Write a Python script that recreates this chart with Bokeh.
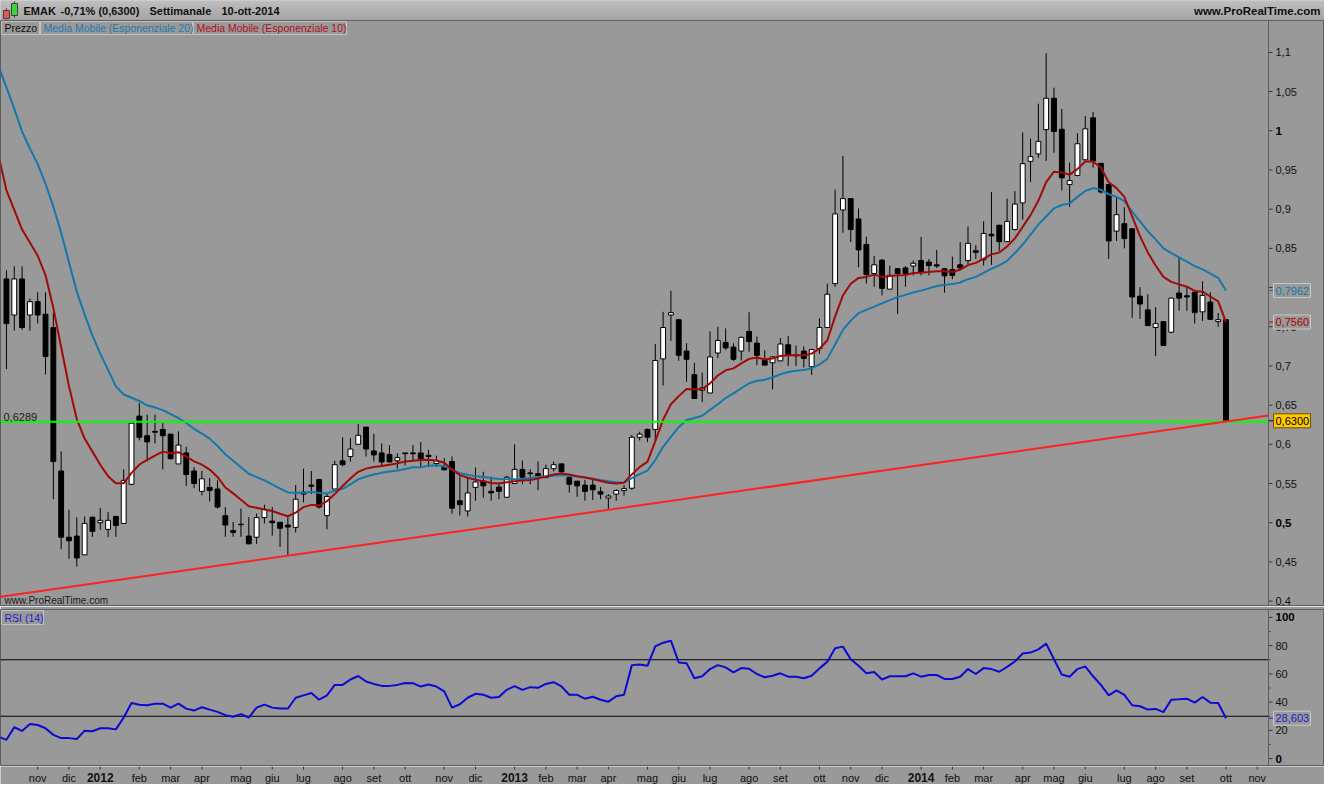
import numpy as np
from bokeh.plotting import figure
from bokeh.layouts import column
from bokeh.models import Range1d, Span, ColumnDataSource
from bokeh.core.properties import value
from bokeh.embed import file_html
from bokeh.resources import INLINE

# ---------------- data (weekly candles, 10 Oct 2011 -> 10 Oct 2014) ----------------
open_ = [0.811, 0.765, 0.811, 0.765, 0.782, 0.766, 0.749, 0.566, 0.4815, 0.483,
         0.459, 0.507, 0.500, 0.4915, 0.508, 0.499, 0.549, 0.636, 0.611, 0.6165,
         0.619, 0.613, 0.575, 0.589, 0.566, 0.540, 0.545, 0.543, 0.509, 0.490,
         0.498, 0.483, 0.4815, 0.5065, 0.502, 0.5005, 0.497, 0.494, 0.539, 0.548,
         0.555, 0.509, 0.543, 0.579, 0.5845, 0.600, 0.622, 0.5915, 0.589, 0.587,
         0.579, 0.589, 0.589, 0.589, 0.586, 0.5755, 0.5705, 0.578, 0.528, 0.515,
         0.545, 0.553, 0.540, 0.5455, 0.5325, 0.550, 0.568, 0.5635, 0.5625, 0.5575,
         0.569, 0.575, 0.5575, 0.553, 0.548, 0.548, 0.5395, 0.5315, 0.5365, 0.541,
         0.544, 0.609, 0.619, 0.619, 0.709, 0.765, 0.759, 0.719, 0.689, 0.669,
         0.6655, 0.7165, 0.730, 0.724, 0.719, 0.744, 0.729, 0.707, 0.704, 0.7065,
         0.727, 0.714, 0.719, 0.699, 0.722, 0.749, 0.805, 0.899, 0.9135, 0.8875,
         0.855, 0.818, 0.835, 0.798, 0.824, 0.825, 0.8275, 0.8345, 0.8325, 0.829,
         0.824, 0.823, 0.829, 0.8345, 0.847, 0.8355, 0.868, 0.8795, 0.8585, 0.874,
         0.908, 0.961, 0.9705, 1.0015, 1.0415, 1.002, 0.9315, 0.943, 0.963, 1.0165,
         0.9585, 0.9315, 0.872, 0.8815, 0.875, 0.789, 0.7715, 0.749, 0.7565, 0.743,
         0.793, 0.7895, 0.794, 0.769, 0.7815, 0.7565, 0.759]
high = [0.822, 0.827, 0.827, 0.786, 0.794, 0.794, 0.768, 0.591, 0.5165, 0.507,
        0.508, 0.508, 0.519, 0.5136, 0.508, 0.568, 0.628, 0.653, 0.638, 0.638,
        0.627, 0.613, 0.6165, 0.597, 0.571, 0.566, 0.557, 0.554, 0.520, 0.501,
        0.518, 0.507, 0.5115, 0.523, 0.520, 0.501, 0.507, 0.548, 0.569, 0.566,
        0.556, 0.5365, 0.579, 0.609, 0.608, 0.626, 0.622, 0.6135, 0.601, 0.599,
        0.5885, 0.589, 0.599, 0.603, 0.593, 0.5855, 0.5825, 0.5845, 0.559, 0.5585,
        0.5705, 0.565, 0.559, 0.551, 0.560, 0.600, 0.5795, 0.568, 0.578, 0.574,
        0.578, 0.576, 0.5615, 0.553, 0.5545, 0.5555, 0.5455, 0.5365, 0.543, 0.548,
        0.612, 0.616, 0.620, 0.728, 0.769, 0.796, 0.760, 0.729, 0.704, 0.6915,
        0.744, 0.750, 0.748, 0.729, 0.7375, 0.7685, 0.7375, 0.720, 0.7125, 0.7355,
        0.738, 0.726, 0.725, 0.722, 0.7605, 0.805, 0.925, 0.968, 0.914, 0.901,
        0.865, 0.8405, 0.836, 0.828, 0.825, 0.8275, 0.8345, 0.8645, 0.8365, 0.848,
        0.825, 0.8395, 0.858, 0.878, 0.854, 0.8845, 0.922, 0.880, 0.9135, 0.923,
        0.998, 0.990, 1.0345, 1.099, 1.055, 1.028, 0.9595, 0.997, 1.019, 1.024,
        0.959, 0.932, 0.9155, 0.9025, 0.875, 0.8005, 0.7915, 0.775, 0.757, 0.787,
        0.8375, 0.802, 0.797, 0.808, 0.794, 0.7675, 0.759]
low = [0.696, 0.745, 0.746, 0.745, 0.754, 0.689, 0.530, 0.466, 0.454, 0.444,
       0.459, 0.482, 0.491, 0.4815, 0.482, 0.499, 0.548, 0.605, 0.578, 0.601,
       0.568, 0.581, 0.575, 0.547, 0.544, 0.535, 0.527, 0.518, 0.482, 0.482,
       0.482, 0.473, 0.473, 0.499, 0.4835, 0.469, 0.458, 0.4875, 0.526, 0.5365,
       0.518, 0.4915, 0.543, 0.572, 0.578, 0.600, 0.5845, 0.578, 0.573, 0.577,
       0.569, 0.573, 0.5775, 0.5695, 0.571, 0.571, 0.567, 0.5115, 0.509, 0.508,
       0.528, 0.532, 0.528, 0.530, 0.532, 0.550, 0.549, 0.549, 0.5415, 0.557,
       0.5655, 0.5615, 0.5385, 0.533, 0.528, 0.529, 0.530, 0.5175, 0.528, 0.5345,
       0.542, 0.605, 0.603, 0.603, 0.675, 0.732, 0.7065, 0.680, 0.658, 0.654,
       0.665, 0.710, 0.7205, 0.7065, 0.707, 0.718, 0.701, 0.701, 0.670, 0.706,
       0.700, 0.700, 0.698, 0.6885, 0.7155, 0.749, 0.801, 0.870, 0.858, 0.826,
       0.805, 0.801, 0.790, 0.797, 0.7665, 0.801, 0.8155, 0.8155, 0.8155, 0.825,
       0.7935, 0.8105, 0.823, 0.830, 0.8365, 0.828, 0.829, 0.847, 0.858, 0.873,
       0.8865, 0.9345, 0.9655, 0.9615, 0.972, 0.924, 0.903, 0.942, 0.962, 0.953,
       0.920, 0.8365, 0.8595, 0.850, 0.7615, 0.760, 0.751, 0.7125, 0.726, 0.7415,
       0.7705, 0.7705, 0.754, 0.7575, 0.759, 0.750, 0.628]
close = [0.754, 0.811, 0.749, 0.782, 0.765, 0.712, 0.578, 0.4815, 0.477, 0.455,
         0.499, 0.489, 0.503, 0.503, 0.4965, 0.554, 0.627, 0.609, 0.603, 0.6155,
         0.611, 0.5815, 0.599, 0.5615, 0.550, 0.556, 0.541, 0.520, 0.497, 0.4875,
         0.4975, 0.473, 0.5065, 0.517, 0.500, 0.493, 0.4945, 0.530, 0.5365, 0.5465,
         0.520, 0.5335, 0.574, 0.574, 0.594, 0.6115, 0.594, 0.5865, 0.5775, 0.5775,
         0.583, 0.588, 0.588, 0.5815, 0.5845, 0.579, 0.5675, 0.5185, 0.523, 0.538,
         0.552, 0.547, 0.538, 0.540, 0.558, 0.568, 0.558, 0.5625, 0.560, 0.569,
         0.574, 0.565, 0.549, 0.547, 0.540, 0.542, 0.5365, 0.534, 0.541, 0.5435,
         0.609, 0.613, 0.609, 0.707, 0.749, 0.768, 0.7135, 0.7085, 0.6585, 0.672,
         0.7115, 0.7325, 0.723, 0.7085, 0.7365, 0.731, 0.7135, 0.701, 0.7115, 0.728,
         0.7135, 0.713, 0.7095, 0.721, 0.749, 0.7915, 0.894, 0.9135, 0.874, 0.848,
         0.8165, 0.829, 0.799, 0.8155, 0.818, 0.818, 0.831, 0.820, 0.828, 0.8275,
         0.815, 0.8155, 0.825, 0.8565, 0.845, 0.869, 0.866, 0.8585, 0.8845, 0.9065,
         0.958, 0.967, 0.9865, 1.0415, 0.999, 0.940, 0.9365, 0.9835, 1.0025, 0.9615,
         0.922, 0.8595, 0.893, 0.8625, 0.788, 0.779, 0.7515, 0.754, 0.726, 0.7865,
         0.7865, 0.788, 0.768, 0.790, 0.7595, 0.759, 0.630]
# indicator lines start one week before the first visible candle (index -1)
ema20 = [1.082,
         1.0553, 1.0282, 0.9990, 0.9774, 0.9574, 0.9324, 0.9032, 0.8699, 0.8324, 0.7948,
         0.7657, 0.7386, 0.7157, 0.6949, 0.6740, 0.6636, 0.6594, 0.6553, 0.6498, 0.6469,
         0.6436, 0.6386, 0.6336, 0.6273, 0.6198, 0.6136, 0.6073, 0.5978, 0.5874, 0.5790,
         0.5707, 0.5624, 0.5582, 0.5540, 0.5490, 0.5436, 0.5386, 0.5382, 0.5382, 0.5394,
         0.5378, 0.5374, 0.5407, 0.5432, 0.5490, 0.5553, 0.5590, 0.5615, 0.5636, 0.5653,
         0.5665, 0.5686, 0.5707, 0.5709, 0.5728, 0.5732, 0.5720, 0.5678, 0.5632, 0.5611,
         0.5594, 0.5582, 0.5569, 0.5557, 0.5553, 0.5553, 0.5557, 0.5574, 0.5582, 0.5590,
         0.5599, 0.5607, 0.5603, 0.5590, 0.5578, 0.5561, 0.5544, 0.5528, 0.5515, 0.5511,
         0.5570, 0.5620, 0.5665, 0.5800, 0.5969, 0.6094, 0.6219, 0.6311, 0.6336, 0.6365,
         0.6440, 0.6511, 0.6590, 0.6649, 0.6715, 0.6778, 0.6811, 0.6823, 0.6853, 0.6894,
         0.6923, 0.6940, 0.6949, 0.6969, 0.7019, 0.7090, 0.7274, 0.7460, 0.7578, 0.7673,
         0.7715, 0.7757, 0.7798, 0.7840, 0.7878, 0.7907, 0.7936, 0.7961, 0.7990, 0.8019,
         0.8036, 0.8044, 0.8065, 0.8107, 0.8136, 0.8186, 0.8240, 0.8282, 0.8340, 0.8440,
         0.8549, 0.8674, 0.8803, 0.8907, 0.9011, 0.9053, 0.9074, 0.9157, 0.9232, 0.9269,
         0.9249, 0.9190, 0.9157, 0.9103, 0.8969, 0.8844, 0.8719, 0.8615, 0.8499, 0.8440,
         0.8386, 0.8332, 0.8274, 0.8232, 0.8178, 0.8124, 0.7962]
ema10 = [0.968,
         0.9240, 0.8990, 0.8740, 0.8574, 0.8407, 0.8157, 0.7740, 0.7240, 0.6740, 0.6323,
         0.6073, 0.5907, 0.5740, 0.5594, 0.5503, 0.5503, 0.5636, 0.5740, 0.5803, 0.5857,
         0.5907, 0.5886, 0.5899, 0.5845, 0.5782, 0.5740, 0.5678, 0.5584, 0.5449, 0.5374,
         0.5294, 0.5211, 0.5190, 0.5169, 0.5149, 0.5115, 0.5082, 0.5128, 0.5199, 0.5228,
         0.5219, 0.5274, 0.5365, 0.5469, 0.5565, 0.5649, 0.5690, 0.5711, 0.5724, 0.5740,
         0.5757, 0.5782, 0.5790, 0.5799, 0.5803, 0.5794, 0.5765, 0.5678, 0.5607, 0.5574,
         0.5549, 0.5528, 0.5507, 0.5499, 0.5515, 0.5528, 0.5540, 0.5544, 0.5565, 0.5590,
         0.5615, 0.5628, 0.5615, 0.5594, 0.5578, 0.5557, 0.5532, 0.5511, 0.5499, 0.5511,
         0.5616, 0.5709, 0.5779, 0.6040, 0.6315, 0.6511, 0.6615, 0.6707, 0.6698, 0.6707,
         0.6778, 0.6878, 0.6944, 0.6969, 0.7032, 0.7090, 0.7107, 0.7082, 0.7094, 0.7128,
         0.7136, 0.7136, 0.7136, 0.7157, 0.7219, 0.7324, 0.7630, 0.7899, 0.8048, 0.8123,
         0.8136, 0.8165, 0.8136, 0.8148, 0.8157, 0.8161, 0.8186, 0.8190, 0.8198, 0.8207,
         0.8207, 0.8198, 0.8228, 0.8286, 0.8315, 0.8369, 0.8423, 0.8448, 0.8523, 0.8628,
         0.8774, 0.8924, 0.9107, 0.9344, 0.9478, 0.9469, 0.9440, 0.9511, 0.9607, 0.9607,
         0.9532, 0.9344, 0.9269, 0.9157, 0.8907, 0.8657, 0.8448, 0.8282, 0.8136, 0.8073,
         0.8040, 0.8011, 0.7957, 0.7948, 0.7886, 0.7823, 0.7560]
rsi14 = [15.5,
         13.3, 22.2, 19.6, 24.5, 23.8, 21.5, 16.8, 14.5, 14.5, 13.8,
         19.8, 19.4, 21.5, 21.5, 20.7, 29.1, 39.4, 38.2, 37.8, 38.9,
         38.9, 36.1, 38.9, 35.4, 34.0, 36.4, 34.7, 33.1, 30.8, 29.6,
         31.5, 29.1, 36.1, 38.2, 36.1, 35.4, 35.4, 43.1, 44.8, 46.4,
         41.7, 44.8, 52.2, 52.2, 56.0, 58.5, 54.6, 52.9, 51.5, 51.5,
         52.2, 53.6, 53.4, 51.0, 52.5, 51.0, 47.6, 36.1, 38.5, 43.1,
         45.9, 45.2, 43.1, 43.6, 48.7, 51.3, 48.7, 50.6, 50.1, 52.9,
         54.1, 51.1, 45.2, 45.2, 42.4, 43.8, 41.7, 40.3, 44.1, 45.2,
         66.2, 66.7, 65.7, 79.5, 82.1, 83.5, 68.1, 67.6, 56.9, 58.3,
         63.4, 66.2, 64.6, 61.1, 64.1, 63.6, 59.9, 57.6, 58.7, 60.4,
         58.0, 58.0, 56.9, 58.7, 63.9, 68.5, 78.1, 79.3, 70.4, 65.7,
         60.4, 61.3, 56.0, 58.3, 58.3, 58.3, 60.4, 58.0, 59.2, 59.2,
         56.4, 56.4, 58.0, 63.4, 59.9, 64.1, 63.4, 61.5, 65.0, 68.8,
         74.4, 75.1, 77.4, 81.4, 70.4, 59.5, 58.0, 63.4, 65.3, 58.3,
         52.2, 44.8, 48.3, 45.2, 37.8, 37.1, 34.7, 35.2, 32.9, 41.7,
         42.0, 42.4, 39.6, 43.6, 39.6, 39.4, 28.6]

# month ticks: week index of first Monday of each month
month_pos = [4, 8, 12, 17, 21, 25, 30, 34, 38, 43, 47, 51, 56, 60, 65, 69, 73, 77,
             82, 86, 90, 95, 99, 104, 108, 112, 117, 121, 125, 130, 134, 138, 143,
             147, 151, 156, 160]
month_labels = ["nov", "dic", "2012", "feb", "mar", "apr", "mag", "giu", "lug", "ago",
                "set", "ott", "nov", "dic", "2013", "feb", "mar", "apr", "mag", "giu",
                "lug", "ago", "set", "ott", "nov", "dic", "2014", "feb", "mar", "apr",
                "mag", "giu", "lug", "ago", "set", "ott", "nov"]
price_ticks = [0.4, 0.45, 0.5, 0.55, 0.6, 0.65, 0.7, 0.75, 0.8, 0.85, 0.9, 0.95, 1.0, 1.05, 1.1]
price_tick_labels = ["0,4", "0,45", "0,5", "0,55", "0,6", "0,65", "0,7", "0,75", "0,8",
                     "0,85", "0,9", "0,95", "1", "1,05", "1,1"]
price_bold_labels = ["0,5", "1"]
rsi_ticks = [0, 20, 40, 60, 80, 100]
rsi_tick_labels = ["0", "20", "40", "60", "80", "100"]
rsi_bold_labels = ["0", "100"]
rsi_minor_ticks = [10, 30, 50, 70, 90]
rsi_levels = [70, 30]
support_level = 0.6289
support_label = "0,6289"
trend_idx = [36, 156]
trend_val = [0.458, 0.629]
legend_names = ["Prezzo", "Media Mobile (Esponenziale 20)", "Media Mobile (Esponenziale 10)"]
header_parts = ["EMAK", "-0,71% (0,6300)", "Settimanale", "10-ott-2014"]
site = "www.ProRealTime.com"
last_ema20_txt = "0,7962"
last_ema10_txt = "0,7560"
last_close_txt = "0,6300"
last_rsi_txt = "28,603"

# ---------------- style / layout ----------------
FONT = "Liberation Sans"
BG = "#999999"
BLUE = "#1478aa"
RED = "#a00a0a"
AXIS_C = "#5e5e5e"
PLOT_PX, FULL_PX = 1268, 1324           # candle area width, full panel width
H_HEAD, H_PRICE, H_GAP, H_RSI, H_FOOT = 20, 586, 3, 157, 18

X0, X_EDGE = -0.76, 161.44              # index range of the candle area
DPX = (X_EDGE - X0) / PLOT_PX           # index units per pixel
x_range = Range1d(X0, X0 + FULL_PX * DPX)
py0, py1 = 0.3931, 1.1407
ry0, ry1 = -5.6, 105.6


def fx(px):
    return X0 + px * DPX


def fy_price(px_from_top):
    return py1 - px_from_top * (py1 - py0) / H_PRICE


def fy_rsi(px_from_top):
    return ry1 - px_from_top * (ry1 - ry0) / H_RSI


def base_fig(**kw):
    return figure(toolbar_location=None, tools="", output_backend="svg",
                  background_fill_color=BG, border_fill_color=BG,
                  x_axis_location=None, y_axis_location=None,
                  min_border_left=0, min_border_right=0, min_border_bottom=0, **kw)


def grey(level):
    return "#%02x%02x%02x" % (level, level, level)


def right_axis(fig, ticks, labels, bold, minor=None):
    n = len(ticks)
    fig.add_layout(Span(location=X_EDGE, dimension="height", line_color=AXIS_C, line_width=1))
    fig.segment(x0=[X_EDGE] * n, x1=[fx(PLOT_PX + 4)] * n, y0=ticks, y1=ticks,
                line_color="#333333")
    if minor:
        fig.segment(x0=[X_EDGE] * len(minor), x1=[fx(PLOT_PX + 2)] * len(minor),
                    y0=minor, y1=minor, line_color="#444444")
    nt = [(t, l) for t, l in zip(ticks, labels) if l not in bold]
    bt = [(t, l) for t, l in zip(ticks, labels) if l in bold]
    fig.text(x=[fx(PLOT_PX + 7)] * len(nt), y=[t for t, _ in nt], text=[l for _, l in nt],
             text_font=value(FONT), text_font_size="11px", text_baseline="middle",
             text_color="#111111")
    fig.text(x=[fx(PLOT_PX + 7)] * len(bt), y=[t for t, _ in bt], text=[l for _, l in bt],
             text_font=value(FONT), text_font_size="11.5px", text_font_style="bold",
             text_baseline="middle", text_color="#000000")


def value_box(fig, yv, txt, tcolor, fill, border, half_h, tick_color):
    fig.segment(x0=[X_EDGE], x1=[fx(PLOT_PX + 5)], y0=[yv], y1=[yv], line_color=tick_color)
    fig.quad(left=[fx(PLOT_PX + 5)], right=[fx(PLOT_PX + 42)], top=[yv + half_h],
             bottom=[yv - half_h], fill_color=fill, line_color=border)
    fig.text(x=[fx(PLOT_PX + 7)], y=[yv], text=[txt], text_font=value(FONT),
             text_font_size="11px", text_baseline="middle", text_color=tcolor)


# ---------------- header ----------------
head = base_fig(frame_width=FULL_PX, frame_height=H_HEAD, min_border_top=0,
                x_range=Range1d(0, FULL_PX), y_range=Range1d(0, H_HEAD),
                outline_line_color=None)
head.grid.visible = False
n = H_HEAD
shades = [grey(int(204 - 36 * k / (n - 1))) for k in range(n)]
head.quad(left=[0] * n, right=[FULL_PX] * n,
          top=[H_HEAD - k for k in range(n)], bottom=[H_HEAD - k - 1 for k in range(n)],
          fill_color=shades, line_color=None)
head.segment(x0=[6, 14], y0=[1, 3], x1=[6, 14], y1=[12, 19], line_color="#333333")
head.quad(left=[3, 11], right=[9, 17], bottom=[2, 5], top=[10, 17],
          fill_color=["#e05858", "#3cd63c"], line_color="#404040")
head.text(x=[23, 60, 149, 221], y=[10] * 4, text=header_parts,
          text_font=value(FONT), text_font_style="bold", text_font_size="11px",
          text_baseline="middle", text_color="#101010")
head.text(x=[FULL_PX - 4], y=[10], text=[site], text_font=value(FONT),
          text_font_style="bold", text_font_size="11.5px", text_align="right",
          text_baseline="middle", text_color="#101010")

# ---------------- price panel ----------------
price = base_fig(frame_width=FULL_PX, frame_height=H_PRICE, min_border_top=0,
                 x_range=x_range, y_range=Range1d(py0, py1), outline_line_color=AXIS_C)
price.grid.visible = False

idx = np.arange(len(close))
line_idx = np.arange(-1, len(close))
o = np.array(open_)
c = np.array(close)
src = ColumnDataSource(dict(x=idx, top=np.maximum(o, c), bottom=np.minimum(o, c),
                            high=high, low=low,
                            fill=["white" if cc > oo else "black" for oo, cc in zip(open_, close)]))
price.segment(x0="x", y0="low", x1="x", y1="high", source=src, line_color="black", line_width=1)
price.vbar(x="x", width=0.62, top="top", bottom="bottom", source=src,
           fill_color="fill", line_color="black", line_width=1)
price.line(line_idx, ema20, line_color=BLUE, line_width=2)
price.line(line_idx, ema10, line_color=RED, line_width=2)

# horizontal support and rising trend line (ending at the price axis)
price.segment(x0=[X0], x1=[X_EDGE], y0=[support_level], y1=[support_level],
              line_color="#00ff00", line_width=2)
grad = (trend_val[1] - trend_val[0]) / (trend_idx[1] - trend_idx[0])
tx = [X0, X_EDGE]
ty = [trend_val[0] + grad * (v - trend_idx[0]) for v in tx]
price.segment(x0=[tx[0]], x1=[tx[1]], y0=[ty[0]], y1=[ty[1]],
              line_color="#ff2222", line_width=2)

price.text(x=[fx(3)], y=[support_level], text=[support_label], text_font=value(FONT),
           text_font_size="11px", text_baseline="bottom", text_color="#1a1a1a",
           y_offset=-1)
price.text(x=[fx(4)], y=[fy_price(H_PRICE - 6)], text=[site], text_font=value(FONT),
           text_font_size="10px", text_baseline="middle", text_color="#1a1a1a")

box_l = [1, 40, 193]
box_r = [39, 192, 346]
price.quad(left=[fx(v) for v in box_l], right=[fx(v) for v in box_r],
           top=[fy_price(1)] * 3, bottom=[fy_price(14)] * 3,
           fill_color=BG, line_color="#c2c2c2")
price.text(x=[fx(v + 3) for v in box_l], y=[fy_price(7.5)] * 3, text=legend_names,
           text_font=value(FONT), text_font_size="10.5px", text_baseline="middle",
           text_color=["#101010", "#1f7ab0", "#b01020"])

right_axis(price, price_ticks, price_tick_labels, price_bold_labels)
hp = 7 * (py1 - py0) / H_PRICE
value_box(price, ema20[-1], last_ema20_txt, BLUE, BG, "#c8c8c8", hp, BLUE)
value_box(price, ema10[-1], last_ema10_txt, "#b00000", BG, "#c8c8c8", hp, RED)
value_box(price, close[-1], last_close_txt, "#000000", "#ffc800", "#6a5400", hp, "#000000")

# ---------------- RSI panel ----------------
rsi = base_fig(frame_width=FULL_PX, frame_height=H_RSI, min_border_top=H_GAP,
               x_range=x_range, y_range=Range1d(ry0, ry1), outline_line_color=AXIS_C)
rsi.grid.visible = False
rsi.segment(x0=[X0] * len(rsi_levels), x1=[X_EDGE] * len(rsi_levels),
            y0=rsi_levels, y1=rsi_levels, line_color="black", line_width=1)
rsi.line(line_idx, rsi14, line_color="#0a0ad2", line_width=2)
rsi.quad(left=[fx(1)], right=[fx(43)], top=[fy_rsi(1)], bottom=[fy_rsi(15)],
         fill_color=BG, line_color="#c2c2c2")
rsi.text(x=[fx(4)], y=[fy_rsi(8)], text=["RSI (14)"], text_font=value(FONT),
         text_font_size="10.5px", text_baseline="middle", text_color="#1c1cc8")
right_axis(rsi, rsi_ticks, rsi_tick_labels, rsi_bold_labels, rsi_minor_ticks)
hr = 7 * (ry1 - ry0) / H_RSI
value_box(rsi, rsi14[-1], last_rsi_txt, "#2020d0", BG, "#c8c8c8", hr, "#2020d0")

# ---------------- month axis (footer) ----------------
foot = base_fig(frame_width=FULL_PX, frame_height=H_FOOT, min_border_top=0,
                x_range=x_range, y_range=Range1d(0, H_FOOT), outline_line_color=None)
foot.grid.visible = False
foot.segment(x0=month_pos, y0=[H_FOOT] * len(month_pos), x1=month_pos,
             y1=[H_FOOT - 3] * len(month_pos), line_color="#333333")
m_pos = [p for p, t in zip(month_pos, month_labels) if not t.isdigit()]
m_txt = [t for t in month_labels if not t.isdigit()]
y_pos = [p for p, t in zip(month_pos, month_labels) if t.isdigit()]
y_txt = [t for t in month_labels if t.isdigit()]
foot.text(x=m_pos, y=[7] * len(m_pos), text=m_txt, text_font=value(FONT),
          text_font_size="11px", text_align="center", text_baseline="middle",
          text_color="#111111")
foot.text(x=y_pos, y=[7] * len(y_pos), text=y_txt, text_font=value(FONT),
          text_font_size="12px", text_font_style="bold", text_align="center",
          text_baseline="middle", text_color="#111111")

layout = column(head, price, rsi, foot, spacing=0)
open("out.html", "w").write(file_html(layout, INLINE))
